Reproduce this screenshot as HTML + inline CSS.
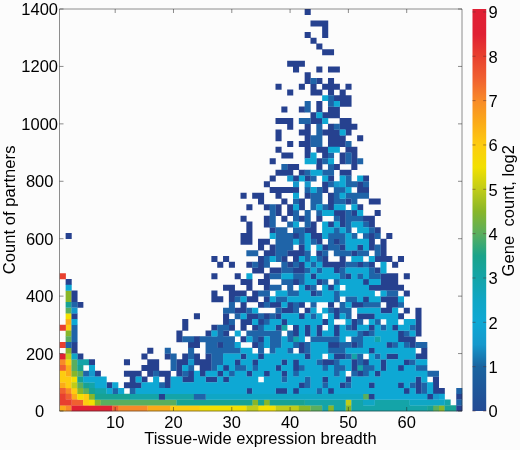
<!DOCTYPE html>
<html><head><meta charset="utf-8"><style>
html,body{margin:0;padding:0;background:#fcfcfc;}
svg{display:block;filter:blur(0.4px);}
text{font-family:"Liberation Sans",sans-serif;font-size:16.5px;fill:#000;}
</style></head><body>
<svg width="520" height="450" viewBox="0 0 520 450">
<defs><linearGradient id="cb" x1="0" y1="0" x2="0" y2="1"><stop offset="0.0073" stop-color="#e01f35"/><stop offset="0.0625" stop-color="#e02033"/><stop offset="0.1176" stop-color="#e8402f"/><stop offset="0.1728" stop-color="#f06030"/><stop offset="0.2279" stop-color="#f88a28"/><stop offset="0.2831" stop-color="#fbab18"/><stop offset="0.3382" stop-color="#fdcc10"/><stop offset="0.3934" stop-color="#f2e000"/><stop offset="0.4485" stop-color="#c0cc18"/><stop offset="0.5037" stop-color="#88b629"/><stop offset="0.5588" stop-color="#5aae5e"/><stop offset="0.6140" stop-color="#1aa38a"/><stop offset="0.6691" stop-color="#14a4a8"/><stop offset="0.7243" stop-color="#0fa6c5"/><stop offset="0.7794" stop-color="#0ea8d4"/><stop offset="0.8346" stop-color="#1598cc"/><stop offset="0.8897" stop-color="#1a64a0"/><stop offset="1.0000" stop-color="#234a94"/></linearGradient></defs>
<rect width="520" height="450" fill="#fcfcfc"/>
<g>
<path fill="#fbab18" d="M59.80 405.26h6.08v5.99h-6.08zM147.25 405.26h6.08v5.99h-6.08zM153.08 405.26h6.08v5.99h-6.08zM158.91 405.26h6.08v5.99h-6.08zM164.74 405.26h6.08v5.99h-6.08zM71.46 393.77h6.08v5.99h-6.08zM59.80 382.28h6.08v5.99h-6.08zM65.63 370.80h6.08v5.99h-6.08zM65.63 365.06h6.08v5.99h-6.08zM65.63 319.11h6.08v5.99h-6.08z"/>
<path fill="#f88a28" d="M65.63 405.26h6.08v5.99h-6.08zM118.10 405.26h6.08v5.99h-6.08zM123.93 405.26h6.08v5.99h-6.08zM129.76 405.26h6.08v5.99h-6.08zM135.59 405.26h6.08v5.99h-6.08zM141.42 405.26h6.08v5.99h-6.08zM65.63 388.03h6.08v5.99h-6.08zM59.80 359.31h6.08v5.99h-6.08z"/>
<path fill="#e02033" d="M71.46 405.26h6.08v5.99h-6.08zM77.29 405.26h6.08v5.99h-6.08zM83.12 405.26h6.08v5.99h-6.08zM88.95 405.26h6.08v5.99h-6.08zM94.78 405.26h6.08v5.99h-6.08zM100.61 405.26h6.08v5.99h-6.08zM106.44 405.26h6.08v5.99h-6.08zM59.80 353.57h6.08v5.99h-6.08z"/>
<path fill="#f06030" d="M112.27 405.26h6.08v5.99h-6.08zM71.46 399.51h6.08v5.99h-6.08zM77.29 399.51h6.08v5.99h-6.08zM65.63 393.77h6.08v5.99h-6.08zM59.80 388.03h6.08v5.99h-6.08zM59.80 365.06h6.08v5.99h-6.08z"/>
<path fill="#fdcc10" d="M170.57 405.26h6.08v5.99h-6.08zM176.40 405.26h6.08v5.99h-6.08zM182.23 405.26h6.08v5.99h-6.08zM188.06 405.26h6.08v5.99h-6.08zM193.89 405.26h6.08v5.99h-6.08zM83.12 399.51h6.08v5.99h-6.08zM83.12 393.77h6.08v5.99h-6.08zM71.46 388.03h6.08v5.99h-6.08zM65.63 382.28h6.08v5.99h-6.08zM59.80 376.54h6.08v5.99h-6.08zM65.63 376.54h6.08v5.99h-6.08zM59.80 370.80h6.08v5.99h-6.08zM65.63 359.31h6.08v5.99h-6.08zM65.63 324.86h6.08v5.99h-6.08z"/>
<path fill="#f2e000" d="M199.72 405.26h6.08v5.99h-6.08zM205.55 405.26h6.08v5.99h-6.08zM211.38 405.26h6.08v5.99h-6.08zM217.21 405.26h6.08v5.99h-6.08zM223.04 405.26h6.08v5.99h-6.08zM228.87 405.26h6.08v5.99h-6.08zM234.70 405.26h6.08v5.99h-6.08zM240.53 405.26h6.08v5.99h-6.08zM258.02 405.26h6.08v5.99h-6.08zM263.85 405.26h6.08v5.99h-6.08zM269.68 405.26h6.08v5.99h-6.08zM88.95 399.51h6.08v5.99h-6.08zM77.29 393.77h6.08v5.99h-6.08zM71.46 376.54h6.08v5.99h-6.08zM65.63 313.37h6.08v5.99h-6.08z"/>
<path fill="#c0cc18" d="M246.36 405.26h6.08v5.99h-6.08zM252.19 405.26h6.08v5.99h-6.08zM275.51 405.26h6.08v5.99h-6.08zM281.34 405.26h6.08v5.99h-6.08zM287.17 405.26h6.08v5.99h-6.08zM293.00 405.26h6.08v5.99h-6.08zM345.47 399.51h6.08v5.99h-6.08zM71.46 382.28h6.08v5.99h-6.08zM65.63 353.57h6.08v5.99h-6.08z"/>
<path fill="#88b629" d="M298.83 405.26h6.08v5.99h-6.08zM304.66 405.26h6.08v5.99h-6.08zM327.98 405.26h6.08v5.99h-6.08zM345.47 405.26h6.08v5.99h-6.08zM438.75 405.26h6.08v5.99h-6.08zM94.78 399.51h6.08v5.99h-6.08zM252.19 399.51h6.08v5.99h-6.08zM263.85 399.51h6.08v5.99h-6.08zM88.95 393.77h6.08v5.99h-6.08zM77.29 388.03h6.08v5.99h-6.08zM71.46 370.80h6.08v5.99h-6.08zM65.63 347.83h6.08v5.99h-6.08zM65.63 330.60h6.08v5.99h-6.08zM65.63 296.14h6.08v5.99h-6.08zM65.63 290.40h6.08v5.99h-6.08z"/>
<path fill="#5aae5e" d="M310.49 405.26h6.08v5.99h-6.08zM316.32 405.26h6.08v5.99h-6.08zM432.92 405.26h6.08v5.99h-6.08zM100.61 399.51h6.08v5.99h-6.08zM106.44 399.51h6.08v5.99h-6.08zM112.27 399.51h6.08v5.99h-6.08zM118.10 399.51h6.08v5.99h-6.08zM123.93 399.51h6.08v5.99h-6.08zM129.76 399.51h6.08v5.99h-6.08zM135.59 399.51h6.08v5.99h-6.08zM141.42 399.51h6.08v5.99h-6.08zM147.25 399.51h6.08v5.99h-6.08zM153.08 399.51h6.08v5.99h-6.08zM158.91 399.51h6.08v5.99h-6.08zM164.74 399.51h6.08v5.99h-6.08zM170.57 399.51h6.08v5.99h-6.08zM362.96 393.77h6.08v5.99h-6.08zM83.12 388.03h6.08v5.99h-6.08zM77.29 382.28h6.08v5.99h-6.08zM77.29 370.80h6.08v5.99h-6.08zM71.46 365.06h6.08v5.99h-6.08zM71.46 359.31h6.08v5.99h-6.08zM65.63 336.34h6.08v5.99h-6.08zM65.63 307.63h6.08v5.99h-6.08z"/>
<path fill="#14a4a8" d="M322.15 405.26h6.08v5.99h-6.08zM333.81 405.26h6.08v5.99h-6.08zM339.64 405.26h6.08v5.99h-6.08zM351.30 405.26h6.08v5.99h-6.08zM357.13 405.26h6.08v5.99h-6.08zM362.96 405.26h6.08v5.99h-6.08zM368.79 405.26h6.08v5.99h-6.08zM374.62 405.26h6.08v5.99h-6.08zM380.45 405.26h6.08v5.99h-6.08zM386.28 405.26h6.08v5.99h-6.08zM392.11 405.26h6.08v5.99h-6.08zM397.94 405.26h6.08v5.99h-6.08zM403.77 405.26h6.08v5.99h-6.08zM409.60 405.26h6.08v5.99h-6.08zM415.43 405.26h6.08v5.99h-6.08zM421.26 405.26h6.08v5.99h-6.08zM304.66 399.51h6.08v5.99h-6.08zM310.49 399.51h6.08v5.99h-6.08zM316.32 399.51h6.08v5.99h-6.08zM322.15 399.51h6.08v5.99h-6.08zM327.98 399.51h6.08v5.99h-6.08zM333.81 399.51h6.08v5.99h-6.08zM339.64 399.51h6.08v5.99h-6.08zM351.30 399.51h6.08v5.99h-6.08zM357.13 399.51h6.08v5.99h-6.08zM374.62 399.51h6.08v5.99h-6.08zM380.45 399.51h6.08v5.99h-6.08zM386.28 399.51h6.08v5.99h-6.08zM392.11 399.51h6.08v5.99h-6.08zM397.94 399.51h6.08v5.99h-6.08zM403.77 399.51h6.08v5.99h-6.08zM444.58 399.51h6.08v5.99h-6.08zM129.76 393.77h6.08v5.99h-6.08zM135.59 393.77h6.08v5.99h-6.08zM141.42 393.77h6.08v5.99h-6.08zM147.25 393.77h6.08v5.99h-6.08zM153.08 393.77h6.08v5.99h-6.08zM164.74 393.77h6.08v5.99h-6.08zM170.57 393.77h6.08v5.99h-6.08zM176.40 393.77h6.08v5.99h-6.08zM182.23 393.77h6.08v5.99h-6.08zM188.06 393.77h6.08v5.99h-6.08zM94.78 388.03h6.08v5.99h-6.08zM100.61 388.03h6.08v5.99h-6.08zM88.95 382.28h6.08v5.99h-6.08zM357.13 365.06h6.08v5.99h-6.08zM77.29 359.31h6.08v5.99h-6.08zM83.12 359.31h6.08v5.99h-6.08zM351.30 353.57h6.08v5.99h-6.08zM293.00 336.34h6.08v5.99h-6.08zM374.62 336.34h6.08v5.99h-6.08zM281.34 324.86h6.08v5.99h-6.08z"/>
<path fill="#17a294" d="M427.09 405.26h6.08v5.99h-6.08zM444.58 405.26h6.08v5.99h-6.08zM450.41 405.26h6.08v5.99h-6.08zM176.40 399.51h6.08v5.99h-6.08zM182.23 399.51h6.08v5.99h-6.08zM188.06 399.51h6.08v5.99h-6.08zM193.89 399.51h6.08v5.99h-6.08zM199.72 399.51h6.08v5.99h-6.08zM205.55 399.51h6.08v5.99h-6.08zM211.38 399.51h6.08v5.99h-6.08zM217.21 399.51h6.08v5.99h-6.08zM223.04 399.51h6.08v5.99h-6.08zM228.87 399.51h6.08v5.99h-6.08zM234.70 399.51h6.08v5.99h-6.08zM240.53 399.51h6.08v5.99h-6.08zM246.36 399.51h6.08v5.99h-6.08zM258.02 399.51h6.08v5.99h-6.08zM269.68 399.51h6.08v5.99h-6.08zM275.51 399.51h6.08v5.99h-6.08zM281.34 399.51h6.08v5.99h-6.08zM287.17 399.51h6.08v5.99h-6.08zM293.00 399.51h6.08v5.99h-6.08zM298.83 399.51h6.08v5.99h-6.08zM94.78 393.77h6.08v5.99h-6.08zM100.61 393.77h6.08v5.99h-6.08zM106.44 393.77h6.08v5.99h-6.08zM112.27 393.77h6.08v5.99h-6.08zM118.10 393.77h6.08v5.99h-6.08zM123.93 393.77h6.08v5.99h-6.08zM88.95 388.03h6.08v5.99h-6.08zM83.12 382.28h6.08v5.99h-6.08zM77.29 376.54h6.08v5.99h-6.08zM77.29 365.06h6.08v5.99h-6.08zM65.63 301.88h6.08v5.99h-6.08z"/>
<path fill="#26418f" d="M456.24 405.26h6.08v5.99h-6.08zM158.91 393.77h6.08v5.99h-6.08zM368.79 393.77h6.08v5.99h-6.08zM427.09 393.77h6.08v5.99h-6.08zM456.24 393.77h6.08v5.99h-6.08zM246.36 388.03h6.08v5.99h-6.08zM275.51 388.03h6.08v5.99h-6.08zM281.34 388.03h6.08v5.99h-6.08zM293.00 388.03h6.08v5.99h-6.08zM327.98 388.03h6.08v5.99h-6.08zM403.77 388.03h6.08v5.99h-6.08zM415.43 388.03h6.08v5.99h-6.08zM432.92 388.03h6.08v5.99h-6.08zM438.75 388.03h6.08v5.99h-6.08zM106.44 382.28h6.08v5.99h-6.08zM123.93 382.28h6.08v5.99h-6.08zM129.76 382.28h6.08v5.99h-6.08zM135.59 382.28h6.08v5.99h-6.08zM164.74 382.28h6.08v5.99h-6.08zM298.83 382.28h6.08v5.99h-6.08zM339.64 382.28h6.08v5.99h-6.08zM368.79 382.28h6.08v5.99h-6.08zM397.94 382.28h6.08v5.99h-6.08zM415.43 382.28h6.08v5.99h-6.08zM432.92 382.28h6.08v5.99h-6.08zM129.76 376.54h6.08v5.99h-6.08zM141.42 376.54h6.08v5.99h-6.08zM164.74 376.54h6.08v5.99h-6.08zM182.23 376.54h6.08v5.99h-6.08zM188.06 376.54h6.08v5.99h-6.08zM205.55 376.54h6.08v5.99h-6.08zM211.38 376.54h6.08v5.99h-6.08zM223.04 376.54h6.08v5.99h-6.08zM322.15 376.54h6.08v5.99h-6.08zM345.47 376.54h6.08v5.99h-6.08zM415.43 376.54h6.08v5.99h-6.08zM432.92 376.54h6.08v5.99h-6.08zM94.78 370.80h6.08v5.99h-6.08zM123.93 370.80h6.08v5.99h-6.08zM129.76 370.80h6.08v5.99h-6.08zM135.59 370.80h6.08v5.99h-6.08zM147.25 370.80h6.08v5.99h-6.08zM158.91 370.80h6.08v5.99h-6.08zM164.74 370.80h6.08v5.99h-6.08zM176.40 370.80h6.08v5.99h-6.08zM188.06 370.80h6.08v5.99h-6.08zM199.72 370.80h6.08v5.99h-6.08zM217.21 370.80h6.08v5.99h-6.08zM246.36 370.80h6.08v5.99h-6.08zM263.85 370.80h6.08v5.99h-6.08zM281.34 370.80h6.08v5.99h-6.08zM357.13 370.80h6.08v5.99h-6.08zM374.62 370.80h6.08v5.99h-6.08zM141.42 365.06h6.08v5.99h-6.08zM147.25 365.06h6.08v5.99h-6.08zM153.08 365.06h6.08v5.99h-6.08zM176.40 365.06h6.08v5.99h-6.08zM199.72 365.06h6.08v5.99h-6.08zM205.55 365.06h6.08v5.99h-6.08zM223.04 365.06h6.08v5.99h-6.08zM275.51 365.06h6.08v5.99h-6.08zM293.00 365.06h6.08v5.99h-6.08zM351.30 365.06h6.08v5.99h-6.08zM380.45 365.06h6.08v5.99h-6.08zM397.94 365.06h6.08v5.99h-6.08zM88.95 359.31h6.08v5.99h-6.08zM123.93 359.31h6.08v5.99h-6.08zM147.25 359.31h6.08v5.99h-6.08zM153.08 359.31h6.08v5.99h-6.08zM176.40 359.31h6.08v5.99h-6.08zM182.23 359.31h6.08v5.99h-6.08zM193.89 359.31h6.08v5.99h-6.08zM199.72 359.31h6.08v5.99h-6.08zM205.55 359.31h6.08v5.99h-6.08zM234.70 359.31h6.08v5.99h-6.08zM252.19 359.31h6.08v5.99h-6.08zM281.34 359.31h6.08v5.99h-6.08zM293.00 359.31h6.08v5.99h-6.08zM322.15 359.31h6.08v5.99h-6.08zM327.98 359.31h6.08v5.99h-6.08zM351.30 359.31h6.08v5.99h-6.08zM362.96 359.31h6.08v5.99h-6.08zM380.45 359.31h6.08v5.99h-6.08zM403.77 359.31h6.08v5.99h-6.08zM77.29 353.57h6.08v5.99h-6.08zM141.42 353.57h6.08v5.99h-6.08zM164.74 353.57h6.08v5.99h-6.08zM182.23 353.57h6.08v5.99h-6.08zM193.89 353.57h6.08v5.99h-6.08zM205.55 353.57h6.08v5.99h-6.08zM240.53 353.57h6.08v5.99h-6.08zM258.02 353.57h6.08v5.99h-6.08zM304.66 353.57h6.08v5.99h-6.08zM333.81 353.57h6.08v5.99h-6.08zM339.64 353.57h6.08v5.99h-6.08zM386.28 353.57h6.08v5.99h-6.08zM392.11 353.57h6.08v5.99h-6.08zM415.43 353.57h6.08v5.99h-6.08zM421.26 353.57h6.08v5.99h-6.08zM71.46 347.83h6.08v5.99h-6.08zM147.25 347.83h6.08v5.99h-6.08zM298.83 347.83h6.08v5.99h-6.08zM368.79 347.83h6.08v5.99h-6.08zM421.26 347.83h6.08v5.99h-6.08zM71.46 342.08h6.08v5.99h-6.08zM188.06 342.08h6.08v5.99h-6.08zM193.89 342.08h6.08v5.99h-6.08zM217.21 342.08h6.08v5.99h-6.08zM252.19 342.08h6.08v5.99h-6.08zM298.83 342.08h6.08v5.99h-6.08zM327.98 342.08h6.08v5.99h-6.08zM333.81 342.08h6.08v5.99h-6.08zM351.30 342.08h6.08v5.99h-6.08zM386.28 342.08h6.08v5.99h-6.08zM409.60 342.08h6.08v5.99h-6.08zM176.40 336.34h6.08v5.99h-6.08zM193.89 336.34h6.08v5.99h-6.08zM240.53 336.34h6.08v5.99h-6.08zM258.02 336.34h6.08v5.99h-6.08zM397.94 336.34h6.08v5.99h-6.08zM403.77 336.34h6.08v5.99h-6.08zM409.60 336.34h6.08v5.99h-6.08zM176.40 330.60h6.08v5.99h-6.08zM205.55 330.60h6.08v5.99h-6.08zM223.04 330.60h6.08v5.99h-6.08zM293.00 330.60h6.08v5.99h-6.08zM304.66 330.60h6.08v5.99h-6.08zM316.32 330.60h6.08v5.99h-6.08zM333.81 330.60h6.08v5.99h-6.08zM362.96 330.60h6.08v5.99h-6.08zM397.94 330.60h6.08v5.99h-6.08zM415.43 330.60h6.08v5.99h-6.08zM182.23 324.86h6.08v5.99h-6.08zM211.38 324.86h6.08v5.99h-6.08zM228.87 324.86h6.08v5.99h-6.08zM240.53 324.86h6.08v5.99h-6.08zM252.19 324.86h6.08v5.99h-6.08zM275.51 324.86h6.08v5.99h-6.08zM293.00 324.86h6.08v5.99h-6.08zM304.66 324.86h6.08v5.99h-6.08zM316.32 324.86h6.08v5.99h-6.08zM333.81 324.86h6.08v5.99h-6.08zM351.30 324.86h6.08v5.99h-6.08zM368.79 324.86h6.08v5.99h-6.08zM392.11 324.86h6.08v5.99h-6.08zM415.43 324.86h6.08v5.99h-6.08zM182.23 319.11h6.08v5.99h-6.08zM223.04 319.11h6.08v5.99h-6.08zM240.53 319.11h6.08v5.99h-6.08zM246.36 319.11h6.08v5.99h-6.08zM258.02 319.11h6.08v5.99h-6.08zM281.34 319.11h6.08v5.99h-6.08zM322.15 319.11h6.08v5.99h-6.08zM351.30 319.11h6.08v5.99h-6.08zM415.43 319.11h6.08v5.99h-6.08zM71.46 313.37h6.08v5.99h-6.08zM193.89 313.37h6.08v5.99h-6.08zM223.04 313.37h6.08v5.99h-6.08zM246.36 313.37h6.08v5.99h-6.08zM252.19 313.37h6.08v5.99h-6.08zM263.85 313.37h6.08v5.99h-6.08zM275.51 313.37h6.08v5.99h-6.08zM298.83 313.37h6.08v5.99h-6.08zM333.81 313.37h6.08v5.99h-6.08zM357.13 313.37h6.08v5.99h-6.08zM362.96 313.37h6.08v5.99h-6.08zM368.79 313.37h6.08v5.99h-6.08zM397.94 313.37h6.08v5.99h-6.08zM415.43 313.37h6.08v5.99h-6.08zM234.70 307.63h6.08v5.99h-6.08zM240.53 307.63h6.08v5.99h-6.08zM281.34 307.63h6.08v5.99h-6.08zM287.17 307.63h6.08v5.99h-6.08zM304.66 307.63h6.08v5.99h-6.08zM333.81 307.63h6.08v5.99h-6.08zM380.45 307.63h6.08v5.99h-6.08zM386.28 307.63h6.08v5.99h-6.08zM403.77 307.63h6.08v5.99h-6.08zM415.43 307.63h6.08v5.99h-6.08zM77.29 301.88h6.08v5.99h-6.08zM240.53 301.88h6.08v5.99h-6.08zM258.02 301.88h6.08v5.99h-6.08zM269.68 301.88h6.08v5.99h-6.08zM275.51 301.88h6.08v5.99h-6.08zM287.17 301.88h6.08v5.99h-6.08zM298.83 301.88h6.08v5.99h-6.08zM327.98 301.88h6.08v5.99h-6.08zM351.30 301.88h6.08v5.99h-6.08zM357.13 301.88h6.08v5.99h-6.08zM386.28 301.88h6.08v5.99h-6.08zM392.11 301.88h6.08v5.99h-6.08zM71.46 296.14h6.08v5.99h-6.08zM211.38 296.14h6.08v5.99h-6.08zM217.21 296.14h6.08v5.99h-6.08zM228.87 296.14h6.08v5.99h-6.08zM246.36 296.14h6.08v5.99h-6.08zM252.19 296.14h6.08v5.99h-6.08zM263.85 296.14h6.08v5.99h-6.08zM362.96 296.14h6.08v5.99h-6.08zM380.45 296.14h6.08v5.99h-6.08zM386.28 296.14h6.08v5.99h-6.08zM392.11 296.14h6.08v5.99h-6.08zM71.46 290.40h6.08v5.99h-6.08zM211.38 290.40h6.08v5.99h-6.08zM228.87 290.40h6.08v5.99h-6.08zM234.70 290.40h6.08v5.99h-6.08zM240.53 290.40h6.08v5.99h-6.08zM252.19 290.40h6.08v5.99h-6.08zM310.49 290.40h6.08v5.99h-6.08zM403.77 290.40h6.08v5.99h-6.08zM223.04 284.65h6.08v5.99h-6.08zM228.87 284.65h6.08v5.99h-6.08zM246.36 284.65h6.08v5.99h-6.08zM263.85 284.65h6.08v5.99h-6.08zM304.66 284.65h6.08v5.99h-6.08zM327.98 284.65h6.08v5.99h-6.08zM368.79 284.65h6.08v5.99h-6.08zM374.62 284.65h6.08v5.99h-6.08zM380.45 284.65h6.08v5.99h-6.08zM386.28 284.65h6.08v5.99h-6.08zM392.11 284.65h6.08v5.99h-6.08zM397.94 284.65h6.08v5.99h-6.08zM65.63 278.91h6.08v5.99h-6.08zM240.53 278.91h6.08v5.99h-6.08zM246.36 278.91h6.08v5.99h-6.08zM258.02 278.91h6.08v5.99h-6.08zM263.85 278.91h6.08v5.99h-6.08zM293.00 278.91h6.08v5.99h-6.08zM316.32 278.91h6.08v5.99h-6.08zM362.96 278.91h6.08v5.99h-6.08zM380.45 278.91h6.08v5.99h-6.08zM386.28 278.91h6.08v5.99h-6.08zM392.11 278.91h6.08v5.99h-6.08zM211.38 273.17h6.08v5.99h-6.08zM234.70 273.17h6.08v5.99h-6.08zM263.85 273.17h6.08v5.99h-6.08zM310.49 273.17h6.08v5.99h-6.08zM345.47 273.17h6.08v5.99h-6.08zM380.45 273.17h6.08v5.99h-6.08zM386.28 273.17h6.08v5.99h-6.08zM392.11 273.17h6.08v5.99h-6.08zM403.77 273.17h6.08v5.99h-6.08zM252.19 267.42h6.08v5.99h-6.08zM258.02 267.42h6.08v5.99h-6.08zM269.68 267.42h6.08v5.99h-6.08zM275.51 267.42h6.08v5.99h-6.08zM293.00 267.42h6.08v5.99h-6.08zM298.83 267.42h6.08v5.99h-6.08zM333.81 267.42h6.08v5.99h-6.08zM374.62 267.42h6.08v5.99h-6.08zM217.21 261.68h6.08v5.99h-6.08zM228.87 261.68h6.08v5.99h-6.08zM246.36 261.68h6.08v5.99h-6.08zM258.02 261.68h6.08v5.99h-6.08zM287.17 261.68h6.08v5.99h-6.08zM298.83 261.68h6.08v5.99h-6.08zM322.15 261.68h6.08v5.99h-6.08zM327.98 261.68h6.08v5.99h-6.08zM333.81 261.68h6.08v5.99h-6.08zM339.64 261.68h6.08v5.99h-6.08zM357.13 261.68h6.08v5.99h-6.08zM368.79 261.68h6.08v5.99h-6.08zM392.11 261.68h6.08v5.99h-6.08zM211.38 255.94h6.08v5.99h-6.08zM223.04 255.94h6.08v5.99h-6.08zM258.02 255.94h6.08v5.99h-6.08zM281.34 255.94h6.08v5.99h-6.08zM293.00 255.94h6.08v5.99h-6.08zM322.15 255.94h6.08v5.99h-6.08zM339.64 255.94h6.08v5.99h-6.08zM374.62 255.94h6.08v5.99h-6.08zM380.45 255.94h6.08v5.99h-6.08zM386.28 255.94h6.08v5.99h-6.08zM397.94 255.94h6.08v5.99h-6.08zM263.85 250.20h6.08v5.99h-6.08zM269.68 250.20h6.08v5.99h-6.08zM287.17 250.20h6.08v5.99h-6.08zM293.00 250.20h6.08v5.99h-6.08zM298.83 250.20h6.08v5.99h-6.08zM316.32 250.20h6.08v5.99h-6.08zM351.30 250.20h6.08v5.99h-6.08zM380.45 250.20h6.08v5.99h-6.08zM258.02 244.45h6.08v5.99h-6.08zM269.68 244.45h6.08v5.99h-6.08zM298.83 244.45h6.08v5.99h-6.08zM322.15 244.45h6.08v5.99h-6.08zM339.64 244.45h6.08v5.99h-6.08zM357.13 244.45h6.08v5.99h-6.08zM368.79 244.45h6.08v5.99h-6.08zM380.45 244.45h6.08v5.99h-6.08zM240.53 238.71h6.08v5.99h-6.08zM246.36 238.71h6.08v5.99h-6.08zM258.02 238.71h6.08v5.99h-6.08zM263.85 238.71h6.08v5.99h-6.08zM316.32 238.71h6.08v5.99h-6.08zM333.81 238.71h6.08v5.99h-6.08zM368.79 238.71h6.08v5.99h-6.08zM380.45 238.71h6.08v5.99h-6.08zM65.63 232.97h6.08v5.99h-6.08zM240.53 232.97h6.08v5.99h-6.08zM246.36 232.97h6.08v5.99h-6.08zM293.00 232.97h6.08v5.99h-6.08zM310.49 232.97h6.08v5.99h-6.08zM316.32 232.97h6.08v5.99h-6.08zM368.79 232.97h6.08v5.99h-6.08zM386.28 232.97h6.08v5.99h-6.08zM246.36 227.22h6.08v5.99h-6.08zM269.68 227.22h6.08v5.99h-6.08zM304.66 227.22h6.08v5.99h-6.08zM310.49 227.22h6.08v5.99h-6.08zM374.62 227.22h6.08v5.99h-6.08zM246.36 221.48h6.08v5.99h-6.08zM263.85 221.48h6.08v5.99h-6.08zM310.49 221.48h6.08v5.99h-6.08zM327.98 221.48h6.08v5.99h-6.08zM339.64 221.48h6.08v5.99h-6.08zM368.79 221.48h6.08v5.99h-6.08zM240.53 215.74h6.08v5.99h-6.08zM263.85 215.74h6.08v5.99h-6.08zM281.34 215.74h6.08v5.99h-6.08zM298.83 215.74h6.08v5.99h-6.08zM316.32 215.74h6.08v5.99h-6.08zM339.64 215.74h6.08v5.99h-6.08zM362.96 215.74h6.08v5.99h-6.08zM368.79 215.74h6.08v5.99h-6.08zM275.51 209.99h6.08v5.99h-6.08zM287.17 209.99h6.08v5.99h-6.08zM333.81 209.99h6.08v5.99h-6.08zM339.64 209.99h6.08v5.99h-6.08zM351.30 209.99h6.08v5.99h-6.08zM374.62 209.99h6.08v5.99h-6.08zM246.36 204.25h6.08v5.99h-6.08zM263.85 204.25h6.08v5.99h-6.08zM275.51 204.25h6.08v5.99h-6.08zM287.17 204.25h6.08v5.99h-6.08zM298.83 204.25h6.08v5.99h-6.08zM327.98 204.25h6.08v5.99h-6.08zM357.13 204.25h6.08v5.99h-6.08zM258.02 198.51h6.08v5.99h-6.08zM281.34 198.51h6.08v5.99h-6.08zM298.83 198.51h6.08v5.99h-6.08zM327.98 198.51h6.08v5.99h-6.08zM345.47 198.51h6.08v5.99h-6.08zM368.79 198.51h6.08v5.99h-6.08zM374.62 198.51h6.08v5.99h-6.08zM240.53 192.77h6.08v5.99h-6.08zM252.19 192.77h6.08v5.99h-6.08zM258.02 192.77h6.08v5.99h-6.08zM275.51 192.77h6.08v5.99h-6.08zM304.66 192.77h6.08v5.99h-6.08zM327.98 192.77h6.08v5.99h-6.08zM269.68 187.02h6.08v5.99h-6.08zM275.51 187.02h6.08v5.99h-6.08zM281.34 187.02h6.08v5.99h-6.08zM287.17 187.02h6.08v5.99h-6.08zM293.00 187.02h6.08v5.99h-6.08zM322.15 187.02h6.08v5.99h-6.08zM357.13 187.02h6.08v5.99h-6.08zM362.96 187.02h6.08v5.99h-6.08zM263.85 181.28h6.08v5.99h-6.08zM322.15 181.28h6.08v5.99h-6.08zM357.13 181.28h6.08v5.99h-6.08zM269.68 175.54h6.08v5.99h-6.08zM293.00 175.54h6.08v5.99h-6.08zM304.66 175.54h6.08v5.99h-6.08zM327.98 175.54h6.08v5.99h-6.08zM362.96 175.54h6.08v5.99h-6.08zM275.51 169.79h6.08v5.99h-6.08zM281.34 169.79h6.08v5.99h-6.08zM287.17 169.79h6.08v5.99h-6.08zM298.83 169.79h6.08v5.99h-6.08zM339.64 169.79h6.08v5.99h-6.08zM345.47 169.79h6.08v5.99h-6.08zM287.17 164.05h6.08v5.99h-6.08zM293.00 164.05h6.08v5.99h-6.08zM316.32 164.05h6.08v5.99h-6.08zM333.81 164.05h6.08v5.99h-6.08zM351.30 164.05h6.08v5.99h-6.08zM269.68 158.31h6.08v5.99h-6.08zM316.32 158.31h6.08v5.99h-6.08zM339.64 158.31h6.08v5.99h-6.08zM351.30 158.31h6.08v5.99h-6.08zM281.34 152.56h6.08v5.99h-6.08zM287.17 152.56h6.08v5.99h-6.08zM304.66 152.56h6.08v5.99h-6.08zM322.15 152.56h6.08v5.99h-6.08zM339.64 152.56h6.08v5.99h-6.08zM351.30 152.56h6.08v5.99h-6.08zM275.51 146.82h6.08v5.99h-6.08zM304.66 146.82h6.08v5.99h-6.08zM316.32 146.82h6.08v5.99h-6.08zM322.15 146.82h6.08v5.99h-6.08zM345.47 146.82h6.08v5.99h-6.08zM351.30 146.82h6.08v5.99h-6.08zM287.17 141.08h6.08v5.99h-6.08zM298.83 141.08h6.08v5.99h-6.08zM304.66 141.08h6.08v5.99h-6.08zM327.98 141.08h6.08v5.99h-6.08zM333.81 141.08h6.08v5.99h-6.08zM339.64 141.08h6.08v5.99h-6.08zM275.51 135.34h6.08v5.99h-6.08zM304.66 135.34h6.08v5.99h-6.08zM327.98 135.34h6.08v5.99h-6.08zM333.81 135.34h6.08v5.99h-6.08zM339.64 135.34h6.08v5.99h-6.08zM357.13 135.34h6.08v5.99h-6.08zM275.51 129.59h6.08v5.99h-6.08zM298.83 129.59h6.08v5.99h-6.08zM304.66 129.59h6.08v5.99h-6.08zM322.15 129.59h6.08v5.99h-6.08zM327.98 129.59h6.08v5.99h-6.08zM333.81 129.59h6.08v5.99h-6.08zM345.47 129.59h6.08v5.99h-6.08zM287.17 123.85h6.08v5.99h-6.08zM304.66 123.85h6.08v5.99h-6.08zM327.98 123.85h6.08v5.99h-6.08zM339.64 123.85h6.08v5.99h-6.08zM345.47 123.85h6.08v5.99h-6.08zM351.30 123.85h6.08v5.99h-6.08zM275.51 118.11h6.08v5.99h-6.08zM281.34 118.11h6.08v5.99h-6.08zM287.17 118.11h6.08v5.99h-6.08zM310.49 118.11h6.08v5.99h-6.08zM316.32 118.11h6.08v5.99h-6.08zM339.64 118.11h6.08v5.99h-6.08zM345.47 118.11h6.08v5.99h-6.08zM310.49 112.36h6.08v5.99h-6.08zM322.15 112.36h6.08v5.99h-6.08zM327.98 112.36h6.08v5.99h-6.08zM333.81 112.36h6.08v5.99h-6.08zM281.34 106.62h6.08v5.99h-6.08zM298.83 106.62h6.08v5.99h-6.08zM316.32 106.62h6.08v5.99h-6.08zM327.98 106.62h6.08v5.99h-6.08zM333.81 106.62h6.08v5.99h-6.08zM316.32 100.88h6.08v5.99h-6.08zM339.64 100.88h6.08v5.99h-6.08zM345.47 100.88h6.08v5.99h-6.08zM333.81 95.13h6.08v5.99h-6.08zM339.64 95.13h6.08v5.99h-6.08zM345.47 95.13h6.08v5.99h-6.08zM287.17 89.39h6.08v5.99h-6.08zM310.49 89.39h6.08v5.99h-6.08zM316.32 89.39h6.08v5.99h-6.08zM327.98 89.39h6.08v5.99h-6.08zM339.64 89.39h6.08v5.99h-6.08zM275.51 83.65h6.08v5.99h-6.08zM298.83 83.65h6.08v5.99h-6.08zM310.49 83.65h6.08v5.99h-6.08zM322.15 83.65h6.08v5.99h-6.08zM327.98 83.65h6.08v5.99h-6.08zM333.81 83.65h6.08v5.99h-6.08zM345.47 83.65h6.08v5.99h-6.08zM304.66 77.91h6.08v5.99h-6.08zM316.32 77.91h6.08v5.99h-6.08zM327.98 77.91h6.08v5.99h-6.08zM304.66 72.16h6.08v5.99h-6.08zM293.00 66.42h6.08v5.99h-6.08zM316.32 66.42h6.08v5.99h-6.08zM327.98 66.42h6.08v5.99h-6.08zM333.81 66.42h6.08v5.99h-6.08zM287.17 60.68h6.08v5.99h-6.08zM293.00 60.68h6.08v5.99h-6.08zM298.83 60.68h6.08v5.99h-6.08zM322.15 49.19h6.08v5.99h-6.08zM327.98 49.19h6.08v5.99h-6.08zM316.32 43.45h6.08v5.99h-6.08zM310.49 37.70h6.08v5.99h-6.08zM304.66 31.96h6.08v5.99h-6.08zM322.15 31.96h6.08v5.99h-6.08zM322.15 26.22h6.08v5.99h-6.08zM310.49 20.48h6.08v5.99h-6.08zM316.32 20.48h6.08v5.99h-6.08zM322.15 20.48h6.08v5.99h-6.08zM304.66 8.99h6.08v5.99h-6.08z"/>
<path fill="#e8402f" d="M59.80 399.51h6.08v5.99h-6.08zM65.63 399.51h6.08v5.99h-6.08zM59.80 393.77h6.08v5.99h-6.08zM59.80 342.08h6.08v5.99h-6.08zM59.80 324.86h6.08v5.99h-6.08zM59.80 273.17h6.08v5.99h-6.08z"/>
<path fill="#0fa6c5" d="M362.96 399.51h6.08v5.99h-6.08zM368.79 399.51h6.08v5.99h-6.08zM409.60 399.51h6.08v5.99h-6.08zM415.43 399.51h6.08v5.99h-6.08zM421.26 399.51h6.08v5.99h-6.08zM427.09 399.51h6.08v5.99h-6.08zM432.92 399.51h6.08v5.99h-6.08zM438.75 399.51h6.08v5.99h-6.08zM205.55 393.77h6.08v5.99h-6.08zM211.38 393.77h6.08v5.99h-6.08zM217.21 393.77h6.08v5.99h-6.08zM223.04 393.77h6.08v5.99h-6.08zM228.87 393.77h6.08v5.99h-6.08zM234.70 393.77h6.08v5.99h-6.08zM240.53 393.77h6.08v5.99h-6.08zM246.36 393.77h6.08v5.99h-6.08zM252.19 393.77h6.08v5.99h-6.08zM258.02 393.77h6.08v5.99h-6.08zM263.85 393.77h6.08v5.99h-6.08zM269.68 393.77h6.08v5.99h-6.08zM275.51 393.77h6.08v5.99h-6.08zM281.34 393.77h6.08v5.99h-6.08zM287.17 393.77h6.08v5.99h-6.08zM293.00 393.77h6.08v5.99h-6.08zM298.83 393.77h6.08v5.99h-6.08zM304.66 393.77h6.08v5.99h-6.08zM310.49 393.77h6.08v5.99h-6.08zM316.32 393.77h6.08v5.99h-6.08zM322.15 393.77h6.08v5.99h-6.08zM327.98 393.77h6.08v5.99h-6.08zM333.81 393.77h6.08v5.99h-6.08zM339.64 393.77h6.08v5.99h-6.08zM345.47 393.77h6.08v5.99h-6.08zM351.30 393.77h6.08v5.99h-6.08zM357.13 393.77h6.08v5.99h-6.08zM71.46 353.57h6.08v5.99h-6.08z"/>
<path fill="#1f64a8" d="M456.24 399.51h6.08v5.99h-6.08zM193.89 393.77h6.08v5.99h-6.08zM199.72 393.77h6.08v5.99h-6.08zM112.27 388.03h6.08v5.99h-6.08zM129.76 388.03h6.08v5.99h-6.08zM316.32 388.03h6.08v5.99h-6.08zM421.26 388.03h6.08v5.99h-6.08zM456.24 388.03h6.08v5.99h-6.08zM158.91 382.28h6.08v5.99h-6.08zM304.66 382.28h6.08v5.99h-6.08zM322.15 382.28h6.08v5.99h-6.08zM345.47 382.28h6.08v5.99h-6.08zM409.60 382.28h6.08v5.99h-6.08zM421.26 382.28h6.08v5.99h-6.08zM281.34 376.54h6.08v5.99h-6.08zM304.66 376.54h6.08v5.99h-6.08zM83.12 370.80h6.08v5.99h-6.08zM153.08 370.80h6.08v5.99h-6.08zM182.23 370.80h6.08v5.99h-6.08zM228.87 370.80h6.08v5.99h-6.08zM293.00 370.80h6.08v5.99h-6.08zM333.81 370.80h6.08v5.99h-6.08zM351.30 370.80h6.08v5.99h-6.08zM362.96 370.80h6.08v5.99h-6.08zM427.09 370.80h6.08v5.99h-6.08zM432.92 370.80h6.08v5.99h-6.08zM170.57 365.06h6.08v5.99h-6.08zM188.06 365.06h6.08v5.99h-6.08zM211.38 365.06h6.08v5.99h-6.08zM234.70 365.06h6.08v5.99h-6.08zM240.53 365.06h6.08v5.99h-6.08zM252.19 365.06h6.08v5.99h-6.08zM298.83 365.06h6.08v5.99h-6.08zM322.15 365.06h6.08v5.99h-6.08zM333.81 365.06h6.08v5.99h-6.08zM339.64 365.06h6.08v5.99h-6.08zM362.96 365.06h6.08v5.99h-6.08zM368.79 365.06h6.08v5.99h-6.08zM415.43 365.06h6.08v5.99h-6.08zM421.26 365.06h6.08v5.99h-6.08zM170.57 359.31h6.08v5.99h-6.08zM211.38 359.31h6.08v5.99h-6.08zM217.21 359.31h6.08v5.99h-6.08zM316.32 359.31h6.08v5.99h-6.08zM333.81 359.31h6.08v5.99h-6.08zM357.13 359.31h6.08v5.99h-6.08zM409.60 359.31h6.08v5.99h-6.08zM170.57 353.57h6.08v5.99h-6.08zM188.06 353.57h6.08v5.99h-6.08zM211.38 353.57h6.08v5.99h-6.08zM217.21 353.57h6.08v5.99h-6.08zM345.47 353.57h6.08v5.99h-6.08zM357.13 353.57h6.08v5.99h-6.08zM374.62 353.57h6.08v5.99h-6.08zM164.74 347.83h6.08v5.99h-6.08zM188.06 347.83h6.08v5.99h-6.08zM205.55 347.83h6.08v5.99h-6.08zM211.38 347.83h6.08v5.99h-6.08zM217.21 347.83h6.08v5.99h-6.08zM223.04 347.83h6.08v5.99h-6.08zM228.87 347.83h6.08v5.99h-6.08zM234.70 347.83h6.08v5.99h-6.08zM258.02 347.83h6.08v5.99h-6.08zM269.68 347.83h6.08v5.99h-6.08zM287.17 347.83h6.08v5.99h-6.08zM304.66 347.83h6.08v5.99h-6.08zM327.98 347.83h6.08v5.99h-6.08zM333.81 347.83h6.08v5.99h-6.08zM339.64 347.83h6.08v5.99h-6.08zM65.63 342.08h6.08v5.99h-6.08zM205.55 342.08h6.08v5.99h-6.08zM211.38 342.08h6.08v5.99h-6.08zM223.04 342.08h6.08v5.99h-6.08zM228.87 342.08h6.08v5.99h-6.08zM258.02 342.08h6.08v5.99h-6.08zM269.68 342.08h6.08v5.99h-6.08zM275.51 342.08h6.08v5.99h-6.08zM293.00 342.08h6.08v5.99h-6.08zM304.66 342.08h6.08v5.99h-6.08zM339.64 342.08h6.08v5.99h-6.08zM345.47 342.08h6.08v5.99h-6.08zM357.13 342.08h6.08v5.99h-6.08zM392.11 342.08h6.08v5.99h-6.08zM403.77 342.08h6.08v5.99h-6.08zM415.43 342.08h6.08v5.99h-6.08zM421.26 342.08h6.08v5.99h-6.08zM71.46 336.34h6.08v5.99h-6.08zM182.23 336.34h6.08v5.99h-6.08zM188.06 336.34h6.08v5.99h-6.08zM199.72 336.34h6.08v5.99h-6.08zM205.55 336.34h6.08v5.99h-6.08zM211.38 336.34h6.08v5.99h-6.08zM217.21 336.34h6.08v5.99h-6.08zM223.04 336.34h6.08v5.99h-6.08zM228.87 336.34h6.08v5.99h-6.08zM252.19 336.34h6.08v5.99h-6.08zM269.68 336.34h6.08v5.99h-6.08zM275.51 336.34h6.08v5.99h-6.08zM287.17 336.34h6.08v5.99h-6.08zM310.49 336.34h6.08v5.99h-6.08zM316.32 336.34h6.08v5.99h-6.08zM322.15 336.34h6.08v5.99h-6.08zM327.98 336.34h6.08v5.99h-6.08zM333.81 336.34h6.08v5.99h-6.08zM351.30 336.34h6.08v5.99h-6.08zM357.13 336.34h6.08v5.99h-6.08zM71.46 330.60h6.08v5.99h-6.08zM217.21 330.60h6.08v5.99h-6.08zM246.36 330.60h6.08v5.99h-6.08zM252.19 330.60h6.08v5.99h-6.08zM258.02 330.60h6.08v5.99h-6.08zM263.85 330.60h6.08v5.99h-6.08zM269.68 330.60h6.08v5.99h-6.08zM275.51 330.60h6.08v5.99h-6.08zM287.17 330.60h6.08v5.99h-6.08zM357.13 330.60h6.08v5.99h-6.08zM368.79 330.60h6.08v5.99h-6.08zM403.77 330.60h6.08v5.99h-6.08zM71.46 324.86h6.08v5.99h-6.08zM217.21 324.86h6.08v5.99h-6.08zM223.04 324.86h6.08v5.99h-6.08zM258.02 324.86h6.08v5.99h-6.08zM345.47 324.86h6.08v5.99h-6.08zM380.45 324.86h6.08v5.99h-6.08zM409.60 324.86h6.08v5.99h-6.08zM228.87 319.11h6.08v5.99h-6.08zM263.85 319.11h6.08v5.99h-6.08zM357.13 319.11h6.08v5.99h-6.08zM374.62 319.11h6.08v5.99h-6.08zM234.70 313.37h6.08v5.99h-6.08zM258.02 313.37h6.08v5.99h-6.08zM269.68 313.37h6.08v5.99h-6.08zM310.49 313.37h6.08v5.99h-6.08zM345.47 313.37h6.08v5.99h-6.08zM223.04 307.63h6.08v5.99h-6.08zM228.87 307.63h6.08v5.99h-6.08zM246.36 307.63h6.08v5.99h-6.08zM275.51 307.63h6.08v5.99h-6.08zM293.00 307.63h6.08v5.99h-6.08zM327.98 307.63h6.08v5.99h-6.08zM339.64 307.63h6.08v5.99h-6.08zM345.47 307.63h6.08v5.99h-6.08zM71.46 301.88h6.08v5.99h-6.08zM228.87 301.88h6.08v5.99h-6.08zM263.85 301.88h6.08v5.99h-6.08zM293.00 301.88h6.08v5.99h-6.08zM310.49 301.88h6.08v5.99h-6.08zM339.64 301.88h6.08v5.99h-6.08zM362.96 301.88h6.08v5.99h-6.08zM368.79 301.88h6.08v5.99h-6.08zM374.62 301.88h6.08v5.99h-6.08zM397.94 301.88h6.08v5.99h-6.08zM234.70 296.14h6.08v5.99h-6.08zM275.51 296.14h6.08v5.99h-6.08zM281.34 296.14h6.08v5.99h-6.08zM333.81 296.14h6.08v5.99h-6.08zM345.47 296.14h6.08v5.99h-6.08zM351.30 296.14h6.08v5.99h-6.08zM258.02 290.40h6.08v5.99h-6.08zM263.85 290.40h6.08v5.99h-6.08zM287.17 290.40h6.08v5.99h-6.08zM293.00 290.40h6.08v5.99h-6.08zM316.32 290.40h6.08v5.99h-6.08zM333.81 290.40h6.08v5.99h-6.08zM386.28 290.40h6.08v5.99h-6.08zM392.11 290.40h6.08v5.99h-6.08zM269.68 284.65h6.08v5.99h-6.08zM275.51 284.65h6.08v5.99h-6.08zM287.17 284.65h6.08v5.99h-6.08zM310.49 284.65h6.08v5.99h-6.08zM281.34 278.91h6.08v5.99h-6.08zM287.17 278.91h6.08v5.99h-6.08zM298.83 278.91h6.08v5.99h-6.08zM322.15 278.91h6.08v5.99h-6.08zM333.81 278.91h6.08v5.99h-6.08zM269.68 273.17h6.08v5.99h-6.08zM275.51 273.17h6.08v5.99h-6.08zM293.00 273.17h6.08v5.99h-6.08zM298.83 273.17h6.08v5.99h-6.08zM339.64 273.17h6.08v5.99h-6.08zM357.13 273.17h6.08v5.99h-6.08zM368.79 273.17h6.08v5.99h-6.08zM374.62 273.17h6.08v5.99h-6.08zM281.34 267.42h6.08v5.99h-6.08zM287.17 267.42h6.08v5.99h-6.08zM304.66 267.42h6.08v5.99h-6.08zM316.32 267.42h6.08v5.99h-6.08zM339.64 267.42h6.08v5.99h-6.08zM368.79 267.42h6.08v5.99h-6.08zM252.19 261.68h6.08v5.99h-6.08zM263.85 261.68h6.08v5.99h-6.08zM281.34 261.68h6.08v5.99h-6.08zM293.00 261.68h6.08v5.99h-6.08zM310.49 261.68h6.08v5.99h-6.08zM345.47 261.68h6.08v5.99h-6.08zM351.30 261.68h6.08v5.99h-6.08zM362.96 261.68h6.08v5.99h-6.08zM263.85 255.94h6.08v5.99h-6.08zM275.51 255.94h6.08v5.99h-6.08zM304.66 255.94h6.08v5.99h-6.08zM316.32 255.94h6.08v5.99h-6.08zM246.36 250.20h6.08v5.99h-6.08zM252.19 250.20h6.08v5.99h-6.08zM275.51 250.20h6.08v5.99h-6.08zM281.34 250.20h6.08v5.99h-6.08zM304.66 250.20h6.08v5.99h-6.08zM322.15 250.20h6.08v5.99h-6.08zM333.81 250.20h6.08v5.99h-6.08zM339.64 250.20h6.08v5.99h-6.08zM345.47 250.20h6.08v5.99h-6.08zM357.13 250.20h6.08v5.99h-6.08zM362.96 250.20h6.08v5.99h-6.08zM374.62 250.20h6.08v5.99h-6.08zM275.51 244.45h6.08v5.99h-6.08zM281.34 244.45h6.08v5.99h-6.08zM287.17 244.45h6.08v5.99h-6.08zM327.98 244.45h6.08v5.99h-6.08zM333.81 244.45h6.08v5.99h-6.08zM374.62 244.45h6.08v5.99h-6.08zM275.51 238.71h6.08v5.99h-6.08zM281.34 238.71h6.08v5.99h-6.08zM287.17 238.71h6.08v5.99h-6.08zM298.83 238.71h6.08v5.99h-6.08zM310.49 238.71h6.08v5.99h-6.08zM327.98 238.71h6.08v5.99h-6.08zM339.64 238.71h6.08v5.99h-6.08zM275.51 232.97h6.08v5.99h-6.08zM281.34 232.97h6.08v5.99h-6.08zM287.17 232.97h6.08v5.99h-6.08zM298.83 232.97h6.08v5.99h-6.08zM327.98 232.97h6.08v5.99h-6.08zM333.81 232.97h6.08v5.99h-6.08zM339.64 232.97h6.08v5.99h-6.08zM351.30 232.97h6.08v5.99h-6.08zM362.96 232.97h6.08v5.99h-6.08zM374.62 232.97h6.08v5.99h-6.08zM275.51 227.22h6.08v5.99h-6.08zM281.34 227.22h6.08v5.99h-6.08zM293.00 227.22h6.08v5.99h-6.08zM298.83 227.22h6.08v5.99h-6.08zM333.81 227.22h6.08v5.99h-6.08zM345.47 227.22h6.08v5.99h-6.08zM368.79 227.22h6.08v5.99h-6.08zM269.68 221.48h6.08v5.99h-6.08zM287.17 221.48h6.08v5.99h-6.08zM304.66 221.48h6.08v5.99h-6.08zM345.47 221.48h6.08v5.99h-6.08zM362.96 221.48h6.08v5.99h-6.08zM269.68 215.74h6.08v5.99h-6.08zM293.00 215.74h6.08v5.99h-6.08zM304.66 215.74h6.08v5.99h-6.08zM333.81 215.74h6.08v5.99h-6.08zM345.47 215.74h6.08v5.99h-6.08zM351.30 215.74h6.08v5.99h-6.08zM357.13 215.74h6.08v5.99h-6.08zM269.68 209.99h6.08v5.99h-6.08zM293.00 209.99h6.08v5.99h-6.08zM304.66 209.99h6.08v5.99h-6.08zM316.32 209.99h6.08v5.99h-6.08zM345.47 209.99h6.08v5.99h-6.08zM269.68 204.25h6.08v5.99h-6.08zM310.49 204.25h6.08v5.99h-6.08zM322.15 204.25h6.08v5.99h-6.08zM293.00 198.51h6.08v5.99h-6.08zM310.49 198.51h6.08v5.99h-6.08zM316.32 198.51h6.08v5.99h-6.08zM333.81 198.51h6.08v5.99h-6.08zM339.64 198.51h6.08v5.99h-6.08zM351.30 198.51h6.08v5.99h-6.08zM310.49 192.77h6.08v5.99h-6.08zM316.32 192.77h6.08v5.99h-6.08zM333.81 192.77h6.08v5.99h-6.08zM345.47 192.77h6.08v5.99h-6.08zM351.30 192.77h6.08v5.99h-6.08zM357.13 192.77h6.08v5.99h-6.08zM362.96 192.77h6.08v5.99h-6.08zM304.66 187.02h6.08v5.99h-6.08zM316.32 187.02h6.08v5.99h-6.08zM333.81 187.02h6.08v5.99h-6.08zM339.64 187.02h6.08v5.99h-6.08zM327.98 181.28h6.08v5.99h-6.08zM345.47 181.28h6.08v5.99h-6.08zM351.30 181.28h6.08v5.99h-6.08zM362.96 181.28h6.08v5.99h-6.08zM310.49 175.54h6.08v5.99h-6.08zM345.47 175.54h6.08v5.99h-6.08zM304.66 169.79h6.08v5.99h-6.08zM322.15 169.79h6.08v5.99h-6.08zM327.98 169.79h6.08v5.99h-6.08zM281.34 164.05h6.08v5.99h-6.08zM327.98 164.05h6.08v5.99h-6.08zM322.15 158.31h6.08v5.99h-6.08zM345.47 158.31h6.08v5.99h-6.08zM357.13 158.31h6.08v5.99h-6.08zM327.98 152.56h6.08v5.99h-6.08zM345.47 152.56h6.08v5.99h-6.08zM310.49 141.08h6.08v5.99h-6.08zM316.32 141.08h6.08v5.99h-6.08zM345.47 141.08h6.08v5.99h-6.08zM310.49 135.34h6.08v5.99h-6.08zM316.32 135.34h6.08v5.99h-6.08zM316.32 129.59h6.08v5.99h-6.08zM316.32 123.85h6.08v5.99h-6.08zM333.81 123.85h6.08v5.99h-6.08zM298.83 118.11h6.08v5.99h-6.08zM304.66 118.11h6.08v5.99h-6.08zM304.66 106.62h6.08v5.99h-6.08zM304.66 100.88h6.08v5.99h-6.08zM327.98 100.88h6.08v5.99h-6.08zM327.98 95.13h6.08v5.99h-6.08zM310.49 77.91h6.08v5.99h-6.08z"/>
<path fill="#0ea8d4" d="M374.62 393.77h6.08v5.99h-6.08zM380.45 393.77h6.08v5.99h-6.08zM386.28 393.77h6.08v5.99h-6.08zM392.11 393.77h6.08v5.99h-6.08zM397.94 393.77h6.08v5.99h-6.08zM403.77 393.77h6.08v5.99h-6.08zM409.60 393.77h6.08v5.99h-6.08zM415.43 393.77h6.08v5.99h-6.08zM421.26 393.77h6.08v5.99h-6.08zM438.75 393.77h6.08v5.99h-6.08zM106.44 388.03h6.08v5.99h-6.08zM118.10 388.03h6.08v5.99h-6.08zM135.59 388.03h6.08v5.99h-6.08zM141.42 388.03h6.08v5.99h-6.08zM147.25 388.03h6.08v5.99h-6.08zM153.08 388.03h6.08v5.99h-6.08zM158.91 388.03h6.08v5.99h-6.08zM164.74 388.03h6.08v5.99h-6.08zM170.57 388.03h6.08v5.99h-6.08zM176.40 388.03h6.08v5.99h-6.08zM182.23 388.03h6.08v5.99h-6.08zM188.06 388.03h6.08v5.99h-6.08zM193.89 388.03h6.08v5.99h-6.08zM199.72 388.03h6.08v5.99h-6.08zM205.55 388.03h6.08v5.99h-6.08zM211.38 388.03h6.08v5.99h-6.08zM217.21 388.03h6.08v5.99h-6.08zM223.04 388.03h6.08v5.99h-6.08zM228.87 388.03h6.08v5.99h-6.08zM234.70 388.03h6.08v5.99h-6.08zM240.53 388.03h6.08v5.99h-6.08zM252.19 388.03h6.08v5.99h-6.08zM258.02 388.03h6.08v5.99h-6.08zM263.85 388.03h6.08v5.99h-6.08zM269.68 388.03h6.08v5.99h-6.08zM287.17 388.03h6.08v5.99h-6.08zM298.83 388.03h6.08v5.99h-6.08zM304.66 388.03h6.08v5.99h-6.08zM310.49 388.03h6.08v5.99h-6.08zM322.15 388.03h6.08v5.99h-6.08zM333.81 388.03h6.08v5.99h-6.08zM339.64 388.03h6.08v5.99h-6.08zM345.47 388.03h6.08v5.99h-6.08zM351.30 388.03h6.08v5.99h-6.08zM357.13 388.03h6.08v5.99h-6.08zM362.96 388.03h6.08v5.99h-6.08zM368.79 388.03h6.08v5.99h-6.08zM374.62 388.03h6.08v5.99h-6.08zM380.45 388.03h6.08v5.99h-6.08zM386.28 388.03h6.08v5.99h-6.08zM392.11 388.03h6.08v5.99h-6.08zM397.94 388.03h6.08v5.99h-6.08zM409.60 388.03h6.08v5.99h-6.08zM427.09 388.03h6.08v5.99h-6.08zM94.78 382.28h6.08v5.99h-6.08zM100.61 382.28h6.08v5.99h-6.08zM112.27 382.28h6.08v5.99h-6.08zM141.42 382.28h6.08v5.99h-6.08zM147.25 382.28h6.08v5.99h-6.08zM153.08 382.28h6.08v5.99h-6.08zM170.57 382.28h6.08v5.99h-6.08zM176.40 382.28h6.08v5.99h-6.08zM182.23 382.28h6.08v5.99h-6.08zM188.06 382.28h6.08v5.99h-6.08zM193.89 382.28h6.08v5.99h-6.08zM199.72 382.28h6.08v5.99h-6.08zM205.55 382.28h6.08v5.99h-6.08zM211.38 382.28h6.08v5.99h-6.08zM217.21 382.28h6.08v5.99h-6.08zM223.04 382.28h6.08v5.99h-6.08zM228.87 382.28h6.08v5.99h-6.08zM234.70 382.28h6.08v5.99h-6.08zM240.53 382.28h6.08v5.99h-6.08zM246.36 382.28h6.08v5.99h-6.08zM252.19 382.28h6.08v5.99h-6.08zM258.02 382.28h6.08v5.99h-6.08zM263.85 382.28h6.08v5.99h-6.08zM269.68 382.28h6.08v5.99h-6.08zM275.51 382.28h6.08v5.99h-6.08zM281.34 382.28h6.08v5.99h-6.08zM287.17 382.28h6.08v5.99h-6.08zM293.00 382.28h6.08v5.99h-6.08zM310.49 382.28h6.08v5.99h-6.08zM316.32 382.28h6.08v5.99h-6.08zM327.98 382.28h6.08v5.99h-6.08zM333.81 382.28h6.08v5.99h-6.08zM351.30 382.28h6.08v5.99h-6.08zM357.13 382.28h6.08v5.99h-6.08zM362.96 382.28h6.08v5.99h-6.08zM374.62 382.28h6.08v5.99h-6.08zM380.45 382.28h6.08v5.99h-6.08zM386.28 382.28h6.08v5.99h-6.08zM392.11 382.28h6.08v5.99h-6.08zM403.77 382.28h6.08v5.99h-6.08zM427.09 382.28h6.08v5.99h-6.08zM83.12 376.54h6.08v5.99h-6.08zM88.95 376.54h6.08v5.99h-6.08zM94.78 376.54h6.08v5.99h-6.08zM100.61 376.54h6.08v5.99h-6.08zM135.59 376.54h6.08v5.99h-6.08zM153.08 376.54h6.08v5.99h-6.08zM170.57 376.54h6.08v5.99h-6.08zM176.40 376.54h6.08v5.99h-6.08zM193.89 376.54h6.08v5.99h-6.08zM199.72 376.54h6.08v5.99h-6.08zM217.21 376.54h6.08v5.99h-6.08zM228.87 376.54h6.08v5.99h-6.08zM234.70 376.54h6.08v5.99h-6.08zM240.53 376.54h6.08v5.99h-6.08zM246.36 376.54h6.08v5.99h-6.08zM252.19 376.54h6.08v5.99h-6.08zM263.85 376.54h6.08v5.99h-6.08zM269.68 376.54h6.08v5.99h-6.08zM275.51 376.54h6.08v5.99h-6.08zM287.17 376.54h6.08v5.99h-6.08zM293.00 376.54h6.08v5.99h-6.08zM298.83 376.54h6.08v5.99h-6.08zM310.49 376.54h6.08v5.99h-6.08zM316.32 376.54h6.08v5.99h-6.08zM327.98 376.54h6.08v5.99h-6.08zM333.81 376.54h6.08v5.99h-6.08zM339.64 376.54h6.08v5.99h-6.08zM351.30 376.54h6.08v5.99h-6.08zM357.13 376.54h6.08v5.99h-6.08zM362.96 376.54h6.08v5.99h-6.08zM368.79 376.54h6.08v5.99h-6.08zM374.62 376.54h6.08v5.99h-6.08zM380.45 376.54h6.08v5.99h-6.08zM386.28 376.54h6.08v5.99h-6.08zM392.11 376.54h6.08v5.99h-6.08zM397.94 376.54h6.08v5.99h-6.08zM403.77 376.54h6.08v5.99h-6.08zM409.60 376.54h6.08v5.99h-6.08zM421.26 376.54h6.08v5.99h-6.08zM193.89 370.80h6.08v5.99h-6.08zM205.55 370.80h6.08v5.99h-6.08zM211.38 370.80h6.08v5.99h-6.08zM223.04 370.80h6.08v5.99h-6.08zM234.70 370.80h6.08v5.99h-6.08zM240.53 370.80h6.08v5.99h-6.08zM252.19 370.80h6.08v5.99h-6.08zM258.02 370.80h6.08v5.99h-6.08zM269.68 370.80h6.08v5.99h-6.08zM275.51 370.80h6.08v5.99h-6.08zM287.17 370.80h6.08v5.99h-6.08zM298.83 370.80h6.08v5.99h-6.08zM304.66 370.80h6.08v5.99h-6.08zM310.49 370.80h6.08v5.99h-6.08zM316.32 370.80h6.08v5.99h-6.08zM322.15 370.80h6.08v5.99h-6.08zM327.98 370.80h6.08v5.99h-6.08zM339.64 370.80h6.08v5.99h-6.08zM368.79 370.80h6.08v5.99h-6.08zM380.45 370.80h6.08v5.99h-6.08zM386.28 370.80h6.08v5.99h-6.08zM392.11 370.80h6.08v5.99h-6.08zM397.94 370.80h6.08v5.99h-6.08zM403.77 370.80h6.08v5.99h-6.08zM409.60 370.80h6.08v5.99h-6.08zM415.43 370.80h6.08v5.99h-6.08zM421.26 370.80h6.08v5.99h-6.08zM88.95 365.06h6.08v5.99h-6.08zM182.23 365.06h6.08v5.99h-6.08zM217.21 365.06h6.08v5.99h-6.08zM228.87 365.06h6.08v5.99h-6.08zM246.36 365.06h6.08v5.99h-6.08zM258.02 365.06h6.08v5.99h-6.08zM263.85 365.06h6.08v5.99h-6.08zM269.68 365.06h6.08v5.99h-6.08zM281.34 365.06h6.08v5.99h-6.08zM287.17 365.06h6.08v5.99h-6.08zM304.66 365.06h6.08v5.99h-6.08zM310.49 365.06h6.08v5.99h-6.08zM316.32 365.06h6.08v5.99h-6.08zM327.98 365.06h6.08v5.99h-6.08zM345.47 365.06h6.08v5.99h-6.08zM374.62 365.06h6.08v5.99h-6.08zM386.28 365.06h6.08v5.99h-6.08zM392.11 365.06h6.08v5.99h-6.08zM403.77 365.06h6.08v5.99h-6.08zM409.60 365.06h6.08v5.99h-6.08zM223.04 359.31h6.08v5.99h-6.08zM228.87 359.31h6.08v5.99h-6.08zM240.53 359.31h6.08v5.99h-6.08zM246.36 359.31h6.08v5.99h-6.08zM258.02 359.31h6.08v5.99h-6.08zM263.85 359.31h6.08v5.99h-6.08zM269.68 359.31h6.08v5.99h-6.08zM275.51 359.31h6.08v5.99h-6.08zM287.17 359.31h6.08v5.99h-6.08zM298.83 359.31h6.08v5.99h-6.08zM304.66 359.31h6.08v5.99h-6.08zM310.49 359.31h6.08v5.99h-6.08zM339.64 359.31h6.08v5.99h-6.08zM345.47 359.31h6.08v5.99h-6.08zM368.79 359.31h6.08v5.99h-6.08zM374.62 359.31h6.08v5.99h-6.08zM386.28 359.31h6.08v5.99h-6.08zM392.11 359.31h6.08v5.99h-6.08zM397.94 359.31h6.08v5.99h-6.08zM415.43 359.31h6.08v5.99h-6.08zM421.26 359.31h6.08v5.99h-6.08zM223.04 353.57h6.08v5.99h-6.08zM228.87 353.57h6.08v5.99h-6.08zM234.70 353.57h6.08v5.99h-6.08zM246.36 353.57h6.08v5.99h-6.08zM252.19 353.57h6.08v5.99h-6.08zM263.85 353.57h6.08v5.99h-6.08zM269.68 353.57h6.08v5.99h-6.08zM275.51 353.57h6.08v5.99h-6.08zM281.34 353.57h6.08v5.99h-6.08zM287.17 353.57h6.08v5.99h-6.08zM293.00 353.57h6.08v5.99h-6.08zM298.83 353.57h6.08v5.99h-6.08zM310.49 353.57h6.08v5.99h-6.08zM316.32 353.57h6.08v5.99h-6.08zM327.98 353.57h6.08v5.99h-6.08zM368.79 353.57h6.08v5.99h-6.08zM380.45 353.57h6.08v5.99h-6.08zM397.94 353.57h6.08v5.99h-6.08zM403.77 353.57h6.08v5.99h-6.08zM409.60 353.57h6.08v5.99h-6.08zM240.53 347.83h6.08v5.99h-6.08zM246.36 347.83h6.08v5.99h-6.08zM275.51 347.83h6.08v5.99h-6.08zM281.34 347.83h6.08v5.99h-6.08zM310.49 347.83h6.08v5.99h-6.08zM316.32 347.83h6.08v5.99h-6.08zM322.15 347.83h6.08v5.99h-6.08zM345.47 347.83h6.08v5.99h-6.08zM351.30 347.83h6.08v5.99h-6.08zM357.13 347.83h6.08v5.99h-6.08zM362.96 347.83h6.08v5.99h-6.08zM374.62 347.83h6.08v5.99h-6.08zM380.45 347.83h6.08v5.99h-6.08zM386.28 347.83h6.08v5.99h-6.08zM392.11 347.83h6.08v5.99h-6.08zM397.94 347.83h6.08v5.99h-6.08zM403.77 347.83h6.08v5.99h-6.08zM409.60 347.83h6.08v5.99h-6.08zM234.70 342.08h6.08v5.99h-6.08zM263.85 342.08h6.08v5.99h-6.08zM281.34 342.08h6.08v5.99h-6.08zM287.17 342.08h6.08v5.99h-6.08zM310.49 342.08h6.08v5.99h-6.08zM316.32 342.08h6.08v5.99h-6.08zM322.15 342.08h6.08v5.99h-6.08zM362.96 342.08h6.08v5.99h-6.08zM368.79 342.08h6.08v5.99h-6.08zM374.62 342.08h6.08v5.99h-6.08zM380.45 342.08h6.08v5.99h-6.08zM397.94 342.08h6.08v5.99h-6.08zM246.36 336.34h6.08v5.99h-6.08zM263.85 336.34h6.08v5.99h-6.08zM281.34 336.34h6.08v5.99h-6.08zM298.83 336.34h6.08v5.99h-6.08zM339.64 336.34h6.08v5.99h-6.08zM362.96 336.34h6.08v5.99h-6.08zM368.79 336.34h6.08v5.99h-6.08zM380.45 336.34h6.08v5.99h-6.08zM386.28 336.34h6.08v5.99h-6.08zM392.11 336.34h6.08v5.99h-6.08zM211.38 330.60h6.08v5.99h-6.08zM234.70 330.60h6.08v5.99h-6.08zM298.83 330.60h6.08v5.99h-6.08zM310.49 330.60h6.08v5.99h-6.08zM322.15 330.60h6.08v5.99h-6.08zM327.98 330.60h6.08v5.99h-6.08zM339.64 330.60h6.08v5.99h-6.08zM345.47 330.60h6.08v5.99h-6.08zM351.30 330.60h6.08v5.99h-6.08zM374.62 330.60h6.08v5.99h-6.08zM380.45 330.60h6.08v5.99h-6.08zM386.28 330.60h6.08v5.99h-6.08zM392.11 330.60h6.08v5.99h-6.08zM409.60 330.60h6.08v5.99h-6.08zM263.85 324.86h6.08v5.99h-6.08zM269.68 324.86h6.08v5.99h-6.08zM298.83 324.86h6.08v5.99h-6.08zM310.49 324.86h6.08v5.99h-6.08zM327.98 324.86h6.08v5.99h-6.08zM339.64 324.86h6.08v5.99h-6.08zM357.13 324.86h6.08v5.99h-6.08zM362.96 324.86h6.08v5.99h-6.08zM374.62 324.86h6.08v5.99h-6.08zM386.28 324.86h6.08v5.99h-6.08zM397.94 324.86h6.08v5.99h-6.08zM403.77 324.86h6.08v5.99h-6.08zM71.46 319.11h6.08v5.99h-6.08zM252.19 319.11h6.08v5.99h-6.08zM269.68 319.11h6.08v5.99h-6.08zM275.51 319.11h6.08v5.99h-6.08zM287.17 319.11h6.08v5.99h-6.08zM293.00 319.11h6.08v5.99h-6.08zM298.83 319.11h6.08v5.99h-6.08zM304.66 319.11h6.08v5.99h-6.08zM310.49 319.11h6.08v5.99h-6.08zM316.32 319.11h6.08v5.99h-6.08zM327.98 319.11h6.08v5.99h-6.08zM345.47 319.11h6.08v5.99h-6.08zM368.79 319.11h6.08v5.99h-6.08zM386.28 319.11h6.08v5.99h-6.08zM392.11 319.11h6.08v5.99h-6.08zM403.77 319.11h6.08v5.99h-6.08zM409.60 319.11h6.08v5.99h-6.08zM240.53 313.37h6.08v5.99h-6.08zM281.34 313.37h6.08v5.99h-6.08zM287.17 313.37h6.08v5.99h-6.08zM293.00 313.37h6.08v5.99h-6.08zM304.66 313.37h6.08v5.99h-6.08zM316.32 313.37h6.08v5.99h-6.08zM327.98 313.37h6.08v5.99h-6.08zM339.64 313.37h6.08v5.99h-6.08zM374.62 313.37h6.08v5.99h-6.08zM380.45 313.37h6.08v5.99h-6.08zM386.28 313.37h6.08v5.99h-6.08zM392.11 313.37h6.08v5.99h-6.08zM252.19 307.63h6.08v5.99h-6.08zM310.49 307.63h6.08v5.99h-6.08zM322.15 307.63h6.08v5.99h-6.08zM357.13 307.63h6.08v5.99h-6.08zM362.96 307.63h6.08v5.99h-6.08zM368.79 307.63h6.08v5.99h-6.08zM374.62 307.63h6.08v5.99h-6.08zM392.11 307.63h6.08v5.99h-6.08zM281.34 301.88h6.08v5.99h-6.08zM345.47 301.88h6.08v5.99h-6.08zM240.53 296.14h6.08v5.99h-6.08zM269.68 296.14h6.08v5.99h-6.08zM287.17 296.14h6.08v5.99h-6.08zM293.00 296.14h6.08v5.99h-6.08zM298.83 296.14h6.08v5.99h-6.08zM304.66 296.14h6.08v5.99h-6.08zM310.49 296.14h6.08v5.99h-6.08zM316.32 296.14h6.08v5.99h-6.08zM322.15 296.14h6.08v5.99h-6.08zM327.98 296.14h6.08v5.99h-6.08zM357.13 296.14h6.08v5.99h-6.08zM368.79 296.14h6.08v5.99h-6.08zM374.62 296.14h6.08v5.99h-6.08zM397.94 296.14h6.08v5.99h-6.08zM275.51 290.40h6.08v5.99h-6.08zM281.34 290.40h6.08v5.99h-6.08zM298.83 290.40h6.08v5.99h-6.08zM304.66 290.40h6.08v5.99h-6.08zM322.15 290.40h6.08v5.99h-6.08zM327.98 290.40h6.08v5.99h-6.08zM339.64 290.40h6.08v5.99h-6.08zM345.47 290.40h6.08v5.99h-6.08zM351.30 290.40h6.08v5.99h-6.08zM357.13 290.40h6.08v5.99h-6.08zM362.96 290.40h6.08v5.99h-6.08zM368.79 290.40h6.08v5.99h-6.08zM380.45 290.40h6.08v5.99h-6.08zM65.63 284.65h6.08v5.99h-6.08zM298.83 284.65h6.08v5.99h-6.08zM322.15 284.65h6.08v5.99h-6.08zM333.81 284.65h6.08v5.99h-6.08zM345.47 284.65h6.08v5.99h-6.08zM351.30 284.65h6.08v5.99h-6.08zM357.13 284.65h6.08v5.99h-6.08zM362.96 284.65h6.08v5.99h-6.08zM304.66 278.91h6.08v5.99h-6.08zM310.49 278.91h6.08v5.99h-6.08zM339.64 278.91h6.08v5.99h-6.08zM345.47 278.91h6.08v5.99h-6.08zM351.30 278.91h6.08v5.99h-6.08zM357.13 278.91h6.08v5.99h-6.08zM368.79 278.91h6.08v5.99h-6.08zM374.62 278.91h6.08v5.99h-6.08zM246.36 273.17h6.08v5.99h-6.08zM281.34 273.17h6.08v5.99h-6.08zM287.17 273.17h6.08v5.99h-6.08zM304.66 273.17h6.08v5.99h-6.08zM316.32 273.17h6.08v5.99h-6.08zM322.15 273.17h6.08v5.99h-6.08zM327.98 273.17h6.08v5.99h-6.08zM333.81 273.17h6.08v5.99h-6.08zM351.30 273.17h6.08v5.99h-6.08zM362.96 273.17h6.08v5.99h-6.08zM310.49 267.42h6.08v5.99h-6.08zM322.15 267.42h6.08v5.99h-6.08zM327.98 267.42h6.08v5.99h-6.08zM345.47 267.42h6.08v5.99h-6.08zM351.30 267.42h6.08v5.99h-6.08zM357.13 267.42h6.08v5.99h-6.08zM362.96 267.42h6.08v5.99h-6.08zM380.45 267.42h6.08v5.99h-6.08zM304.66 261.68h6.08v5.99h-6.08zM316.32 261.68h6.08v5.99h-6.08zM380.45 261.68h6.08v5.99h-6.08zM269.68 255.94h6.08v5.99h-6.08zM298.83 255.94h6.08v5.99h-6.08zM310.49 255.94h6.08v5.99h-6.08zM351.30 255.94h6.08v5.99h-6.08zM357.13 255.94h6.08v5.99h-6.08zM368.79 255.94h6.08v5.99h-6.08zM304.66 244.45h6.08v5.99h-6.08zM316.32 244.45h6.08v5.99h-6.08zM345.47 244.45h6.08v5.99h-6.08zM351.30 244.45h6.08v5.99h-6.08zM362.96 244.45h6.08v5.99h-6.08zM293.00 238.71h6.08v5.99h-6.08zM304.66 238.71h6.08v5.99h-6.08zM345.47 238.71h6.08v5.99h-6.08zM351.30 238.71h6.08v5.99h-6.08zM357.13 238.71h6.08v5.99h-6.08zM362.96 238.71h6.08v5.99h-6.08zM269.68 232.97h6.08v5.99h-6.08zM304.66 232.97h6.08v5.99h-6.08zM322.15 232.97h6.08v5.99h-6.08zM345.47 232.97h6.08v5.99h-6.08zM322.15 227.22h6.08v5.99h-6.08zM327.98 227.22h6.08v5.99h-6.08zM339.64 227.22h6.08v5.99h-6.08zM357.13 227.22h6.08v5.99h-6.08zM362.96 227.22h6.08v5.99h-6.08zM293.00 221.48h6.08v5.99h-6.08zM322.15 221.48h6.08v5.99h-6.08zM333.81 221.48h6.08v5.99h-6.08zM351.30 221.48h6.08v5.99h-6.08zM357.13 221.48h6.08v5.99h-6.08zM322.15 209.99h6.08v5.99h-6.08zM327.98 209.99h6.08v5.99h-6.08zM357.13 209.99h6.08v5.99h-6.08zM293.00 204.25h6.08v5.99h-6.08zM316.32 204.25h6.08v5.99h-6.08zM333.81 204.25h6.08v5.99h-6.08zM339.64 204.25h6.08v5.99h-6.08zM351.30 204.25h6.08v5.99h-6.08zM293.00 192.77h6.08v5.99h-6.08zM339.64 192.77h6.08v5.99h-6.08zM310.49 187.02h6.08v5.99h-6.08zM345.47 187.02h6.08v5.99h-6.08zM339.64 181.28h6.08v5.99h-6.08zM298.83 175.54h6.08v5.99h-6.08zM322.15 175.54h6.08v5.99h-6.08zM339.64 175.54h6.08v5.99h-6.08zM357.13 175.54h6.08v5.99h-6.08zM310.49 169.79h6.08v5.99h-6.08zM316.32 169.79h6.08v5.99h-6.08zM304.66 158.31h6.08v5.99h-6.08zM310.49 158.31h6.08v5.99h-6.08zM327.98 158.31h6.08v5.99h-6.08zM310.49 152.56h6.08v5.99h-6.08zM327.98 146.82h6.08v5.99h-6.08zM333.81 146.82h6.08v5.99h-6.08zM339.64 129.59h6.08v5.99h-6.08zM322.15 118.11h6.08v5.99h-6.08zM316.32 112.36h6.08v5.99h-6.08zM333.81 100.88h6.08v5.99h-6.08zM322.15 95.13h6.08v5.99h-6.08z"/>
<path fill="#1598cc" d="M432.92 393.77h6.08v5.99h-6.08zM88.95 370.80h6.08v5.99h-6.08zM188.06 359.31h6.08v5.99h-6.08zM71.46 307.63h6.08v5.99h-6.08zM293.00 181.28h6.08v5.99h-6.08zM304.66 181.28h6.08v5.99h-6.08zM333.81 181.28h6.08v5.99h-6.08zM287.17 175.54h6.08v5.99h-6.08z"/>
</g>
<g stroke="#262626" stroke-opacity="0.52" stroke-width="1" fill="none">
<path d="M59.5 411V9H462V411H59.5"/>
<line x1="59.5" y1="411.00" x2="63.5" y2="411.00"/>
<line x1="458" y1="411.00" x2="462" y2="411.00"/>
<line x1="59.5" y1="353.57" x2="63.5" y2="353.57"/>
<line x1="458" y1="353.57" x2="462" y2="353.57"/>
<line x1="59.5" y1="296.14" x2="63.5" y2="296.14"/>
<line x1="458" y1="296.14" x2="462" y2="296.14"/>
<line x1="59.5" y1="238.71" x2="63.5" y2="238.71"/>
<line x1="458" y1="238.71" x2="462" y2="238.71"/>
<line x1="59.5" y1="181.29" x2="63.5" y2="181.29"/>
<line x1="458" y1="181.29" x2="462" y2="181.29"/>
<line x1="59.5" y1="123.86" x2="63.5" y2="123.86"/>
<line x1="458" y1="123.86" x2="462" y2="123.86"/>
<line x1="59.5" y1="66.43" x2="63.5" y2="66.43"/>
<line x1="458" y1="66.43" x2="462" y2="66.43"/>
<line x1="59.5" y1="9.00" x2="63.5" y2="9.00"/>
<line x1="458" y1="9.00" x2="462" y2="9.00"/>
<line x1="115.19" y1="9" x2="115.19" y2="13"/>
<line x1="115.19" y1="411" x2="115.19" y2="407"/>
<line x1="173.49" y1="9" x2="173.49" y2="13"/>
<line x1="173.49" y1="411" x2="173.49" y2="407"/>
<line x1="231.79" y1="9" x2="231.79" y2="13"/>
<line x1="231.79" y1="411" x2="231.79" y2="407"/>
<line x1="290.08" y1="9" x2="290.08" y2="13"/>
<line x1="290.08" y1="411" x2="290.08" y2="407"/>
<line x1="348.38" y1="9" x2="348.38" y2="13"/>
<line x1="348.38" y1="411" x2="348.38" y2="407"/>
<line x1="406.69" y1="9" x2="406.69" y2="13"/>
<line x1="406.69" y1="411" x2="406.69" y2="407"/>
</g>
<g><text x="39.7" y="417.00" text-anchor="middle">0</text><text x="39.7" y="359.57" text-anchor="middle">200</text><text x="39.7" y="302.14" text-anchor="middle">400</text><text x="39.7" y="244.71" text-anchor="middle">600</text><text x="39.7" y="187.29" text-anchor="middle">800</text><text x="39.7" y="129.86" text-anchor="middle">1000</text><text x="39.7" y="72.43" text-anchor="middle">1200</text><text x="39.7" y="15.00" text-anchor="middle">1400</text></g>
<g><text x="115.19" y="428" text-anchor="middle">10</text><text x="173.49" y="428" text-anchor="middle">20</text><text x="231.79" y="428" text-anchor="middle">30</text><text x="290.08" y="428" text-anchor="middle">40</text><text x="348.38" y="428" text-anchor="middle">50</text><text x="406.69" y="428" text-anchor="middle">60</text></g>
<text x="260.4" y="443.5" text-anchor="middle" style="letter-spacing:0px">Tissue-wide expression breadth</text>
<text transform="translate(14.6,209.9) rotate(-90)" text-anchor="middle" style="letter-spacing:0.08px">Count of partners</text>
<rect x="472.5" y="9.0" width="13.699999999999989" height="402.0" fill="url(#cb)"/>
<g stroke="#5a3030" stroke-opacity="0.5" stroke-width="1"><line x1="472.50" y1="411.00" x2="475.50" y2="411.00"/><line x1="483.20" y1="411.00" x2="486.20" y2="411.00"/><line x1="472.50" y1="366.66" x2="475.50" y2="366.66"/><line x1="483.20" y1="366.66" x2="486.20" y2="366.66"/><line x1="472.50" y1="322.32" x2="475.50" y2="322.32"/><line x1="483.20" y1="322.32" x2="486.20" y2="322.32"/><line x1="472.50" y1="277.98" x2="475.50" y2="277.98"/><line x1="483.20" y1="277.98" x2="486.20" y2="277.98"/><line x1="472.50" y1="233.64" x2="475.50" y2="233.64"/><line x1="483.20" y1="233.64" x2="486.20" y2="233.64"/><line x1="472.50" y1="189.30" x2="475.50" y2="189.30"/><line x1="483.20" y1="189.30" x2="486.20" y2="189.30"/><line x1="472.50" y1="144.96" x2="475.50" y2="144.96"/><line x1="483.20" y1="144.96" x2="486.20" y2="144.96"/><line x1="472.50" y1="100.62" x2="475.50" y2="100.62"/><line x1="483.20" y1="100.62" x2="486.20" y2="100.62"/><line x1="472.50" y1="56.28" x2="475.50" y2="56.28"/><line x1="483.20" y1="56.28" x2="486.20" y2="56.28"/><line x1="472.50" y1="11.94" x2="475.50" y2="11.94"/><line x1="483.20" y1="11.94" x2="486.20" y2="11.94"/></g>
<g><text x="488.5" y="417.40">0</text><text x="488.5" y="373.06">1</text><text x="488.5" y="328.72">2</text><text x="488.5" y="284.38">3</text><text x="488.5" y="240.04">4</text><text x="488.5" y="195.70">5</text><text x="488.5" y="151.36">6</text><text x="488.5" y="107.02">7</text><text x="488.5" y="62.68">8</text><text x="488.5" y="18.34">9</text></g>
<text transform="translate(514.2,210.7) rotate(-90)" text-anchor="middle" xml:space="preserve" style="letter-spacing:0.07px">Gene  count, log2</text>
</svg>
</body></html>
